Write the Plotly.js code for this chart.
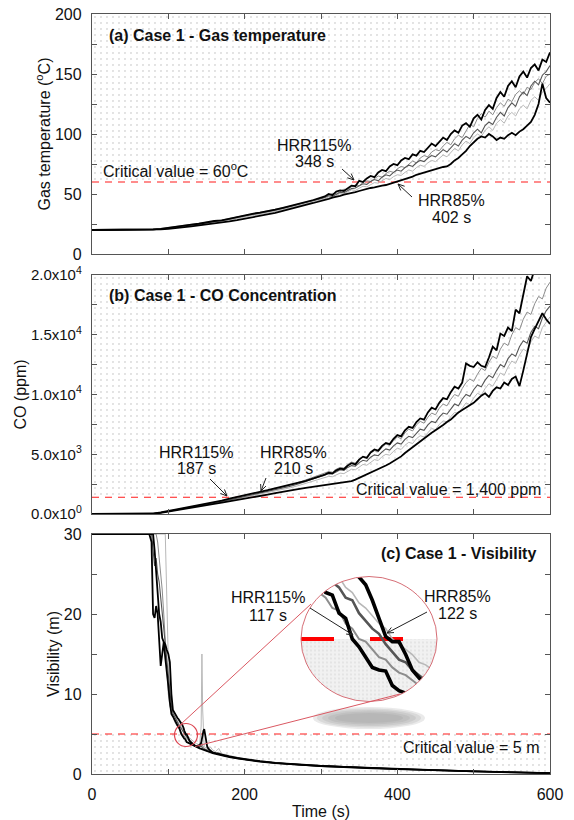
<!DOCTYPE html>
<html><head><meta charset="utf-8">
<script src="https://cdn.plot.ly/plotly-3.0.1.min.js"></script>
<style>html,body{margin:0;padding:0;background:#fff}</style>
</head><body><div id="chart" style="width:574px;height:820px"></div>
<script>
// ---------------- DATA ----------------
const timeRange = [0, 600];
const tempRange = [0, 200];
const coRange = [0, 20000];
const visRange = [0, 30];
const critTemp = 60;
const critCO = 1400;
const critVis = 5;

const timeAB = [0,70,80,90,100,110,120,130,140,150,160,170,180,190,200,210,220,230,240,250,260,270,280,290,300,
305,310,315,320,325,330,335,340,345,350,355,360,365,370,375,380,385,390,395,400,
405,410,415,420,425,430,435,440,445,450,455,460,465,470,475,480,485,490,495,500,
505,510,515,520,525,530,535,540,545,550,555,560,565,570,575,580,585,590,595,600];

const tempHRR115 = [20,20,20.5,21,22,22.8,23.5,24.5,25.2,26.5,27.5,28,29.5,31,32.5,33.5,34.5,35.5,37,38.5,40,41.5,43,45,47,
48,50,49,52,53,52.5,55,57,56.5,61,
60,63,65,64,68,70,69,73,75,74,
78,80,79,83,82,86,85,89,92,90,
94,97,95,100,103,101,107,109,106,113,
116,112,120,124,121,130,135,131,140,144,
139,148,152,147,155,158,153,162,160,168];
const tempHRR85 = [20,20,20,20.5,21,21.5,22,23,23.8,24.5,25.5,26.3,27.2,28.2,29.3,30.5,31.5,32.8,34.2,36,37.8,39.5,41,42.5,44,
45,46,47,47.5,48.5,49.5,50,51,51.5,52.5,
53.5,54,55,55.5,56.5,57,57.5,58.5,59,60,
61,62.5,63.5,64.5,66,67,68,68.5,70,71,
71.5,72.5,73,75,78,80,83,86,90,93,
96,98,97,100,98,95,97,96,99,101,
99,102,104,107,110,116,125,142,130,126];
const tempHRR105 = [20,20,20.6,21.2,22,22.8,23.6,24.5,25.5,26.3,27.3,28.3,29.5,31,32.5,33.5,34.5,35.5,37,38.5,40,41.5,43,44.5,46.5,
47.5,49,50.5,50,52,54,53.5,56,57.5,57,
59.5,61,60.5,63,65,64,67,69,68,71,
73,72,75,77.5,76,80,82,81,85,87,
86,90,93,91,96,99,97,103,108,106,
113,117,114,119,116,122,126,123,129,127,
133,136,133,139,137,143,146,142,148,150];
const tempHRR100 = [20,20,20.3,20.8,21.5,22.3,23,24,25,26,27,27.8,29,30.5,32,33,34,35,36.5,38,39.5,41,42.5,44,46,
47,48.5,48,50,51.5,51,53,54.5,55,57,
58.5,58,60.5,62,61,64,66,65,68,70,
69,72,74,73,76,78,77,80,82,81,
84,87,85,89,92,90,95,98,96,101,
104,101,107,110,108,114,118,115,122,126,
123,131,135,132,140,144,141,149,152,157];
const tempHRR95 = [20,20,20.2,20.7,21.3,22,22.7,23.5,24.5,25.3,26.2,27,28.2,29.5,31,32,33,34,35.5,37,38.5,40,41.5,43,45,
46,47.5,47,49,50.5,50,52,53.5,53,55,
56.5,56,58,59.5,59,61,63,62,64.5,66,
65.5,68,70,69,72,74,73,76,78,77,
80,82.5,81,85,88,86,91,94,92,97,
100,98,103,106,103,109,112,109,115,118,
115,121,124,121,128,131,128,135,138,142];

const coHRR115 = [0,0,40,130,250,370,490,610,730,850,980,1120,1280,1440,1590,1720,1860,2000,2150,2300,2450,2600,2780,2980,3150,
3300,3450,3400,3650,3800,3750,4050,4250,4150,4550,
4800,4700,5150,5400,5300,5700,5950,5850,6300,6600,
6500,7000,7300,7200,7700,8000,7900,8500,8900,8750,
9300,9700,9600,10200,10650,10500,11000,12600,12400,12300,
12700,12400,12300,13100,14000,13700,15100,14900,15600,15300,
17100,16800,18400,19900,19500,20500,20300,21000,20500,21500];
const coHRR85 = [0,0,20,90,190,300,410,520,630,740,850,960,1080,1190,1300,1400,1510,1620,1740,1870,1980,2080,2180,2270,2350,
2380,2420,2470,2520,2570,2630,2680,2750,2880,3020,
3160,3300,3440,3590,3740,3900,4060,4220,4400,4600,
4820,5100,5350,5600,5800,6100,6300,6550,6800,7000,
7200,7450,7700,7900,8200,8500,8700,8900,9050,9300,
9600,9900,10100,9800,10300,10600,10500,11000,10800,11300,
11500,10700,12000,13500,14800,15500,16200,16800,16300,15900];
const coHRR105 = [0,0,35,120,235,350,470,590,710,830,960,1090,1230,1380,1520,1650,1790,1930,2080,2240,2420,2620,2840,3070,3300,
3400,3550,3500,3750,3900,3850,4150,4350,4250,4600,
4800,4700,5100,5300,5200,5600,5850,5750,6150,6450,
6300,6800,7100,6950,7450,7750,7600,8100,8450,8300,
8850,9200,9050,9600,10000,9850,10500,11000,11300,11100,
11700,12200,12000,12700,13200,13000,13800,14300,14100,15000,
15600,15400,16300,16900,16700,17600,18200,18000,18900,19400];
const coHRR100 = [0,0,30,110,220,330,450,570,690,800,920,1040,1180,1320,1450,1580,1710,1850,1990,2140,2320,2510,2720,2940,3150,
3250,3380,3350,3550,3700,3650,3900,4050,4000,4300,
4500,4420,4750,4950,4880,5200,5450,5350,5700,5950,
5850,6250,6500,6400,6800,7100,7000,7450,7750,7650,
8100,8450,8350,8800,9200,9050,9600,10000,9850,10400,
10800,10650,11200,11600,11400,12000,12500,12300,13000,13400,
13200,14000,14500,14300,15200,15700,15500,16400,17000,17400];
const coHRR95 = [0,0,25,100,205,315,430,545,660,770,885,1000,1130,1260,1390,1510,1640,1770,1900,2040,2200,2370,2560,2760,2950,
3050,3150,3120,3300,3420,3380,3600,3750,3700,3950,
4150,4080,4350,4550,4480,4800,5000,4920,5250,5500,
5400,5750,6000,5900,6300,6550,6450,6850,7150,7050,
7500,7800,7700,8150,8500,8400,8900,9300,9150,9700,
10100,9950,10500,10900,10700,11300,11800,11600,12300,12800,
12600,13300,13800,13600,14400,14900,14700,15600,16100,16500];

const timeC = [0,70,75,78,
80,82,84,86,88,90,92,94,96,98,100,102,104,106,108,
109,110,111,112,113,114,115,116,117,118,119,120,121,122,123,124,125,126,127,128,129,130,131,132,133,134,135,
137,139,141,143,144,145,146,147,149,151,153,155,
158,162,166,170,175,180,190,200,
220,240,260,280,300,330,360,400,450,500,550,600];

const visHRR115 = [30,30,30,29,
20,19.5,21,20,17,13.5,15,16.5,14.5,13,11,9,7.5,7.2,6.8,
6.5,6.4,6.2,6.1,5.9,5.85,5.5,5.4,5.0,4.85,4.65,4.45,4.4,4.38,4.1,4.0,3.95,3.9,3.8,3.75,3.7,3.65,3.6,3.55,3.5,3.45,3.4,
3.35,3.3,3.2,3.15,3.1,3.05,3.0,2.95,2.9,2.85,2.8,2.7,
2.6,2.5,2.4,2.3,2.2,2.1,1.95,1.8,
1.55,1.35,1.2,1.1,1.0,0.85,0.75,0.6,0.45,0.3,0.2,0.1];
const visHRR85 = [30,30,30,30,
30,28,25,22,20,19,17,16.5,16.2,15.5,15,14,10,8,7.6,
7.5,7.3,7.1,7.0,6.9,6.7,6.6,6.4,6.3,6.2,6.05,5.75,5.4,5.05,4.95,4.95,4.7,4.4,4.25,4.1,4.0,3.9,3.85,3.75,3.7,3.6,3.55,
3.5,3.55,3.6,3.9,4.5,5.0,5.4,5.6,4.5,3.4,3.1,2.95,
2.7,2.6,2.5,2.4,2.3,2.2,2.0,1.85,
1.6,1.4,1.25,1.1,1.0,0.9,0.78,0.62,0.48,0.33,0.22,0.12];
const visHRR105 = [30,30,30,30,
30,30,30,29,27,25,23,20,17,13,10,8.5,7.8,7.0,6.6,
6.4,6.2,6.15,5.9,5.8,5.6,5.55,5.3,5.2,5.0,4.95,4.8,4.65,4.6,4.45,4.35,4.3,4.2,4.1,4.05,3.95,3.85,3.8,3.7,3.65,3.6,3.5,
3.45,3.4,3.3,3.6,3.9,3.5,3.3,3.2,3.1,3.05,3.2,2.9,
2.75,2.6,2.7,2.4,2.3,2.2,2.05,1.85,
1.6,1.4,1.24,1.12,1.02,0.9,0.78,0.63,0.47,0.33,0.22,0.12];
const visHRR100 = [30,30,30,30,
28,26,27,25,24,22,20,18,16,14,12.5,10.5,8.5,7.6,7.2,
6.9,6.8,6.6,6.5,6.3,6.1,6.0,5.8,5.75,5.5,5.35,5.2,5.1,4.9,4.75,4.6,4.55,4.4,4.3,4.2,4.1,4.0,3.9,3.85,3.75,3.7,3.6,
3.5,3.45,3.4,3.5,3.3,3.2,3.15,3.1,3.0,2.95,2.9,2.8,
2.7,2.55,2.45,2.35,2.25,2.15,2.0,1.82,
1.58,1.38,1.22,1.1,1.0,0.88,0.76,0.61,0.46,0.32,0.21,0.11];
const visHRR95 = [30,30,30,30,
30,30,30,30,30,30,30,30,30,22,14,10,8.6,7.8,7.3,
7.1,6.9,6.7,6.6,6.45,6.3,6.2,6.0,5.9,5.7,5.6,5.45,5.3,5.2,5.0,4.9,4.8,4.7,4.55,4.5,4.4,4.3,4.2,4.15,4.05,4.0,3.9,
3.8,3.7,3.6,6,15,8,3.5,3.4,3.3,3.2,3.1,3.4,
3.0,2.8,3.2,2.5,2.45,2.3,2.1,1.9,
1.65,1.42,1.26,1.14,1.03,0.9,0.79,0.64,0.48,0.34,0.23,0.13];

const seriesNames = ['HRR95%','HRR105%','HRR100%','HRR85%','HRR115%'];
const tempSeries = [tempHRR95, tempHRR105, tempHRR100, tempHRR85, tempHRR115];
const coSeries = [coHRR95, coHRR105, coHRR100, coHRR85, coHRR115];
const visSeries = [visHRR95, visHRR105, visHRR100, visHRR85, visHRR115];
const coTickVals = [0, 5000, 10000, 15000, 20000];
const coTickText = ['0.0x10<sup>0</sup>','5.0x10<sup>3</sup>','1.0x10<sup>4</sup>','1.5x10<sup>4</sup>','2.0x10<sup>4</sup>'];

// ---------------- STYLE / LAYOUT ----------------
const styles = [
  {color:'#b8b8b8', width:1, iw:1.6},
  {color:'#8c8c8c', width:1, iw:2},
  {color:'#555555', width:1.1, iw:2.6},
  {color:'#000000', width:1.8, iw:3.6},
  {color:'#000000', width:1.8, iw:3.6}
];
const FONT = 'Arial, "Liberation Sans", sans-serif';
const L = 92, R = 550, T = 14, B = 774;
const W = R - L, H = B - T;
const px = x => (x - L) / W;
const py = y => 1 - (y - T) / H;

const dotPattern = {shape:'.', fgcolor:'#b0b0b0', bgcolor:'#ffffff', size:6, solidity:0.035};

const traces = [];
function bgFill(xa, ya, y0, y1) {
  traces.push({type:'scatter', mode:'lines', xaxis:xa, yaxis:ya,
    x:[timeRange[0], timeRange[1], timeRange[1], timeRange[0], timeRange[0]],
    y:[y0, y0, y1, y1, y0], fill:'toself', fillcolor:'rgba(0,0,0,0)',
    fillpattern:dotPattern, line:{width:0}, hoverinfo:'skip', showlegend:false});
}
bgFill('x3','y3', critTemp, tempRange[1]);
bgFill('x2','y2', critCO, coRange[1]);
bgFill('x','y', visRange[0], critVis);

function critLine(xa, ya, v) {
  traces.push({type:'scatter', mode:'lines', xaxis:xa, yaxis:ya, x:timeRange, y:[v, v],
    line:{color:'#ff1a1a', width:1.2, dash:'7px,6px'}, hoverinfo:'skip', showlegend:false});
}
critLine('x3','y3', critTemp);
critLine('x2','y2', critCO);
critLine('x','y', critVis);

seriesNames.forEach((n, i) => {
  traces.push({type:'scatter', mode:'lines', name:n, xaxis:'x3', yaxis:'y3', x:timeAB, y:tempSeries[i],
    line:{color:styles[i].color, width:styles[i].width}, showlegend:false});
});
seriesNames.forEach((n, i) => {
  traces.push({type:'scatter', mode:'lines', name:n, xaxis:'x2', yaxis:'y2', x:timeAB, y:coSeries[i],
    line:{color:styles[i].color, width:styles[i].width}, showlegend:false});
});
seriesNames.forEach((n, i) => {
  traces.push({type:'scatter', mode:'lines', name:n, xaxis:'x', yaxis:'y', x:timeC, y:visSeries[i],
    line:{color:styles[i].color, width:styles[i].width}, showlegend:false});
});

// inset (zoom) subplot
const bigC = {cx:369, cy:639, rx:68, ry:62.5};
const insetT = [109.3, 129.7];
const insetV = [3.79, 6.21];
const itc = (insetT[0] + insetT[1]) / 2, itr = (insetT[1] - insetT[0]) / 2;
const ivr = (insetV[1] - insetV[0]) / 2;
const hx = [], hy = [];
for (let k = 0; k <= 60; k++) {
  const a = Math.PI * k / 60;
  hx.push(itc + itr * Math.cos(a));
  hy.push(critVis - ivr * Math.sin(a));
}
traces.push({type:'scatter', mode:'lines', xaxis:'x4', yaxis:'y4', x:hx, y:hy, fill:'toself',
  fillcolor:'#f0f0f0', fillpattern:{shape:'.', fgcolor:'#cfcfcf', bgcolor:'#f1f1f1', size:4, solidity:0.1},
  line:{width:0}, hoverinfo:'skip', showlegend:false});
traces.push({type:'scatter', mode:'lines', xaxis:'x4', yaxis:'y4', x:insetT, y:[critVis, critVis],
  line:{color:'#ff0000', width:4, dash:'33px,36px'}, hoverinfo:'skip', showlegend:false});
seriesNames.forEach((n, i) => {
  traces.push({type:'scatter', mode:'lines', name:n, xaxis:'x4', yaxis:'y4', x:timeC, y:visSeries[i],
    line:{color:styles[i].color, width:styles[i].iw}, hoverinfo:'skip', showlegend:false});
});

// shapes
const shapes = [];
function ell(x0, y0, x1, y1, fill, line) {
  shapes.push({type:'circle', xref:'paper', yref:'paper', layer:'above',
    x0:px(x0), x1:px(x1), y0:py(y1), y1:py(y0), fillcolor:fill || 'rgba(0,0,0,0)',
    line: line || {width:0}});
}
// soft shadow
[[313,707,425,729],[317,708.5,421,727.5],[322,710,416,726],[328,711.5,410,724.5],[335,713,403,723]].forEach(b => {
  ell(b[0], b[1], b[2], b[3], 'rgba(150,150,150,0.2)');
});
// white mask outside the zoom circle
{
  const x0 = bigC.cx - bigC.rx - 3, x1 = bigC.cx + bigC.rx + 3;
  const y0 = bigC.cy - bigC.ry - 3, y1 = bigC.cy + bigC.ry + 3;
  let p = `M${px(x0)},${py(y0)}L${px(x1)},${py(y0)}L${px(x1)},${py(y1)}L${px(x0)},${py(y1)}Z`;
  for (let k = 0; k < 90; k++) {
    const a = 2 * Math.PI * k / 90;
    const X = bigC.cx + bigC.rx * Math.cos(a), Y = bigC.cy + bigC.ry * Math.sin(a);
    p += (k === 0 ? 'M' : 'L') + px(X) + ',' + py(Y);
  }
  p += 'Z';
  shapes.push({type:'path', xref:'paper', yref:'paper', layer:'above', path:p,
    fillcolor:'#ffffff', fillrule:'evenodd', line:{width:0}});
}
ell(bigC.cx - bigC.rx, bigC.cy - bigC.ry, bigC.cx + bigC.rx, bigC.cy + bigC.ry, null, {color:'rgb(214,110,118)', width:1});
ell(174.5, 723.5, 197.5, 746.5, null, {color:'rgb(220,70,82)', width:1.2});
function seg(x0, y0, x1, y1) {
  shapes.push({type:'line', xref:'paper', yref:'paper', layer:'above',
    x0:px(x0), y0:py(y0), x1:px(x1), y1:py(y1), line:{color:'rgb(218,88,98)', width:1}});
}
seg(181, 724, 311, 604);
seg(195, 746.5, 400, 694);

// arrows drawn as shapes (shaft + open V head)
function arrow(x0, y0, x1, y1) {
  const ang = Math.atan2(y1 - y0, x1 - x0), hl = 7, hw = 0.42;
  const a1 = ang + Math.PI - hw, a2 = ang + Math.PI + hw;
  const p = `M${px(x0)},${py(y0)}L${px(x1)},${py(y1)}` +
    `M${px(x1 + hl * Math.cos(a1))},${py(y1 + hl * Math.sin(a1))}L${px(x1)},${py(y1)}` +
    `L${px(x1 + hl * Math.cos(a2))},${py(y1 + hl * Math.sin(a2))}`;
  shapes.push({type:'path', xref:'paper', yref:'paper', layer:'above', path:p,
    line:{color:'#222', width:1}, fillcolor:'rgba(0,0,0,0)'});
}
arrow(342, 169, 354, 180);
arrow(412, 197, 398, 184);
arrow(210, 479, 227, 496);
arrow(266, 478, 261, 491);
arrow(310, 608, 353, 635);
arrow(427, 612, 387, 633);

// annotations
const ann = [];
function txt(t, x, y, anchor, bold) {
  ann.push({xref:'paper', yref:'paper', x:px(x), y:py(y), xanchor:anchor, yanchor:'middle',
    text: bold ? '<b>' + t + '</b>' : t, showarrow:false,
    font:{family:FONT, size:16, color:'#111'}});
}
txt('(a) Case 1 - Gas temperature', 107, 35, 'left', true);
txt('(b) Case 1 - CO Concentration', 107, 295, 'left', true);
txt('(c) Case 1 - Visibility', 538, 553, 'right', true);
txt('Critical value = 60<sup>o</sup>C', 101, 170, 'left');
txt('Critical value = 1,400 ppm', 543, 489, 'right');
txt('Critical value = 5 m', 542, 747, 'right');
txt('HRR115%', 314, 145, 'center'); txt('348 s', 314, 162, 'center');
txt('HRR85%', 451, 200, 'center'); txt('402 s', 451, 218, 'center');
txt('HRR115%', 196, 452, 'center'); txt('187 s', 196, 468, 'center');
txt('HRR85%', 293, 452, 'center'); txt('210 s', 293, 468, 'center');
txt('HRR115%', 268, 597, 'center'); txt('117 s', 268, 615, 'center');
txt('HRR85%', 457, 596, 'center'); txt('122 s', 457, 613, 'center');

const axCol = '#555';
const tickFont = {family:FONT, size:16, color:'#111'};
function xAx(anchor, labels) {
  return {anchor:anchor, domain:[0,1], range:timeRange, showline:true, linecolor:axCol, linewidth:1.2,
    mirror:'allticks', ticks:'inside', ticklen:5, tickcolor:axCol, tickmode:'array', tickvals:[0,200,400,600],
    minor:{dtick:100, tick0:0, ticks:'inside', ticklen:5, tickcolor:axCol},
    showgrid:false, zeroline:false, showticklabels:labels, tickfont:tickFont, ticklabelstandoff:6, fixedrange:true};
}
function yAx(anchor, dom, range, tv, tt, minorDt, title, fsize) {
  const a = {anchor:anchor, domain:dom, range:range, showline:true, linecolor:axCol, linewidth:1.2,
    mirror:'allticks', ticks:'inside', ticklen:5, tickcolor:axCol, tickmode:'array', tickvals:tv,
    minor:{dtick:minorDt, tick0:0, ticks:'inside', ticklen:5, tickcolor:axCol},
    showgrid:false, zeroline:false, tickfont:{family:FONT, size:fsize, color:'#111'}, ticklabelstandoff:6,
    title:{text:title, font:{family:FONT, size:16, color:'#111'}, standoff:0}, fixedrange:true};
  if (tt) a.ticktext = tt;
  return a;
}

const layout = {
  width:574, height:820, margin:{l:L, r:574 - R, t:T, b:820 - B},
  paper_bgcolor:'#ffffff', plot_bgcolor:'rgba(0,0,0,0)', showlegend:false,
  font:{family:FONT, color:'#111'},
  xaxis: Object.assign(xAx('y', true), {title:{text:'Time (s)', font:{family:FONT, size:16, color:'#111'}, standoff:6}}),
  xaxis2: xAx('y2', false),
  xaxis3: xAx('y3', false),
  yaxis: yAx('x', [0, py(534)], visRange, [0,10,20,30], null, 5, 'Visibility (m)', 16),
  yaxis2: yAx('x2', [py(514), py(275)], coRange, coTickVals, coTickText, 2500, 'CO (ppm)', 15),
  yaxis3: yAx('x3', [py(254), 1], tempRange, [0,50,100,150,200], null, 25, 'Gas temperature (<sup>o</sup>C)', 16),
  xaxis4: {anchor:'y4', domain:[px(bigC.cx - bigC.rx), px(bigC.cx + bigC.rx)], range:insetT, visible:false, fixedrange:true},
  yaxis4: {anchor:'x4', domain:[py(bigC.cy + bigC.ry), py(bigC.cy - bigC.ry)], range:insetV, visible:false, fixedrange:true},
  shapes: shapes,
  annotations: ann
};

Plotly.newPlot('chart', traces, layout, {staticPlot:true, displayModeBar:false});
</script>
</body></html>
